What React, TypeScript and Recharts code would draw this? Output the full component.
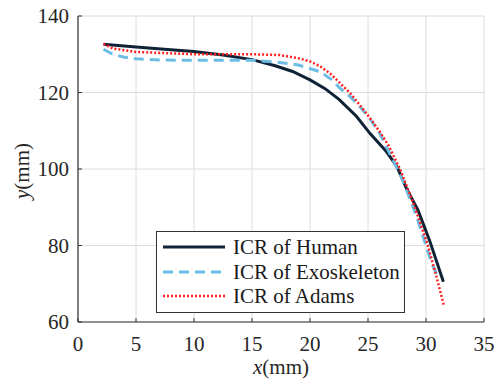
import React from 'react';
import { LineChart, Line, XAxis, YAxis, CartesianGrid, Legend, Label } from 'recharts';

const humanX = [2.2, 5, 8, 10, 12.5, 15, 17, 18.5, 20, 21.3, 22.5, 24, 25.2, 26.6, 27.5, 28.3, 29.3, 30.3, 31.5];
const humanY = [132.6, 131.9, 131.2, 130.7, 129.8, 128.6, 127, 125.5, 123.3, 121, 118.2, 113.8, 109.2, 104.5, 100.6, 95, 89.3, 81.4, 70.5];

const exoX = [2.2, 3, 4, 5, 7, 10, 13, 15, 17, 19, 20.9, 21.8, 22.6, 23.5, 24.3, 25.2, 26, 27, 28, 29.2, 30.5, 31];
const exoY = [131.3, 130, 129.2, 128.8, 128.5, 128.4, 128.4, 128.4, 128, 127.2, 125.4, 123.5, 121.1, 118.8, 116.3, 113, 109.4, 103.3, 97.1, 87.5, 75.3, 72];

const adamsX = [2.2, 3, 5, 10, 15, 17.4, 19.1, 20.1, 20.9, 21.8, 22.6, 23.5, 24.3, 25.2, 26, 26.8, 27.8, 28.9, 30.1, 30.9, 31.55];
const adamsY = [132.7, 131.5, 130.6, 130, 130, 129.8, 128.9, 128, 126.8, 124.8, 122.4, 119.7, 116.7, 113.2, 109.8, 106, 99.7, 91.1, 80.6, 71.9, 64.2];

const xTicks = [0, 5, 10, 15, 20, 25, 30, 35];
const yTicks = [60, 80, 100, 120, 140];

const seriesNames = ['ICR of Human', 'ICR of Exoskeleton', 'ICR of Adams'];

const toPoints = (xs: number[], ys: number[]) => xs.map((x, i) => ({ x, y: ys[i] }));
const humanData = toPoints(humanX, humanY);
const exoData = toPoints(exoX, exoY);
const adamsData = toPoints(adamsX, adamsY);

const FONT = 'Liberation Serif, DejaVu Serif, serif';
const TEXT = '#262626';
const HUMAN = '#0f2236';
const EXO = '#6cbde4';
const ADAMS = '#ff1f1f';

const XTick = (props: any) => {
  const { x, y, payload } = props;
  const axisY = y - 14;
  return (
    <g>
      <line x1={x} x2={x} y1={axisY} y2={axisY - 4} stroke="#333" strokeWidth={1} />
      <text x={x} y={y} dy="0.71em" textAnchor="middle" style={{ fontFamily: FONT, fontSize: 21 }} fill={TEXT}>
        {payload.value}
      </text>
    </g>
  );
};

const YTick = (props: any) => {
  const { x, y, payload } = props;
  const axisX = x + 9;
  return (
    <g>
      <line x1={axisX} x2={axisX + 4} y1={y} y2={y} stroke="#333" strokeWidth={1} />
      <text x={x} y={y} dy="0.355em" textAnchor="end" style={{ fontFamily: FONT, fontSize: 21 }} fill={TEXT}>
        {payload.value}
      </text>
    </g>
  );
};

const YLabelContent = (props: any) => {
  const vb = props.viewBox || { x: 0, y: 0, width: 0, height: 0 };
  const cx = 22;
  const cy = vb.y + vb.height / 2 + 2;
  return (
    <text x={cx} y={cy} transform={`rotate(-90 ${cx} ${cy})`} textAnchor="middle" dominantBaseline="central" style={{ fontFamily: FONT, fontSize: 21 }} fill={TEXT}>
      <tspan fontStyle="italic">y</tspan>
      <tspan>(mm)</tspan>
    </text>
  );
};

const XLabelContent = (props: any) => {
  const vb = props.viewBox || { x: 0, y: 0, width: 0, height: 0 };
  const cx = vb.x + vb.width / 2;
  return (
    <text x={cx} y={374} textAnchor="middle" style={{ fontFamily: FONT, fontSize: 21 }} fill={TEXT}>
      <tspan fontStyle="italic">x</tspan>
      <tspan>(mm)</tspan>
    </text>
  );
};

const legendStyles = [
  { color: HUMAN, dash: undefined as string | undefined, width: 3 },
  { color: EXO, dash: '10 6', width: 3 },
  { color: ADAMS, dash: '2 2', width: 2.5 },
];

const LegendBox = () => (
  <div
    style={{
      border: '1.5px solid #333',
      background: '#fff',
      width: 249,
      padding: '3px 0 3px 0',
      boxSizing: 'border-box',
    }}
  >
    {seriesNames.map((name, i) => (
      <div key={name} style={{ display: 'flex', alignItems: 'center', height: 24.5 }}>
        <svg width={66} height={10} style={{ marginLeft: 6, marginRight: 4 }}>
          <line x1={0} x2={62} y1={5} y2={5} stroke={legendStyles[i].color} strokeWidth={legendStyles[i].width} strokeDasharray={legendStyles[i].dash} />
        </svg>
        <span style={{ fontFamily: FONT, fontSize: 21, color: '#1a1a1a', lineHeight: '24.5px', whiteSpace: 'nowrap' }}>{name}</span>
      </div>
    ))}
  </div>
);

export default function App() {
  return (
    <div style={{ position: 'absolute', left: 0, top: 0, width: 494, height: 380, background: '#fff' }}>
      <LineChart width={494} height={380} margin={{ top: 16, right: 10, left: 0, bottom: 0 }}>
        <CartesianGrid stroke="#dcdcdc" strokeWidth={1} />
        <XAxis
          type="number"
          dataKey="x"
          domain={[0, 35]}
          ticks={xTicks}
          allowDataOverflow
          height={58}
          tickSize={0}
          tickMargin={14}
          tickLine={false}
          axisLine={{ stroke: '#333', strokeWidth: 1.2 }}
          tick={<XTick />}
          interval={0}
        >
          <Label content={<XLabelContent />} />
        </XAxis>
        <YAxis
          type="number"
          dataKey="y"
          domain={[60, 140]}
          ticks={yTicks}
          allowDataOverflow
          width={78}
          tickSize={0}
          tickMargin={9}
          tickLine={false}
          axisLine={{ stroke: '#333', strokeWidth: 1.2 }}
          tick={<YTick />}
          interval={0}
        >
          <Label content={<YLabelContent />} />
        </YAxis>
        <Line data={humanData} dataKey="y" name={seriesNames[0]} stroke={HUMAN} strokeWidth={3} dot={false} isAnimationActive={false} type="linear" />
        <Line data={exoData} dataKey="y" name={seriesNames[1]} stroke={EXO} strokeWidth={3} strokeDasharray="10 6" dot={false} isAnimationActive={false} type="linear" />
        <Line data={adamsData} dataKey="y" name={seriesNames[2]} stroke={ADAMS} strokeWidth={2.5} strokeDasharray="2 2" dot={false} isAnimationActive={false} type="linear" />
        <Legend
          layout="horizontal"
          verticalAlign="middle"
          align="center"
          content={<LegendBox />}
          wrapperStyle={{ left: 156, top: 231, width: 250 }}
        />
      </LineChart>
    </div>
  );
}
